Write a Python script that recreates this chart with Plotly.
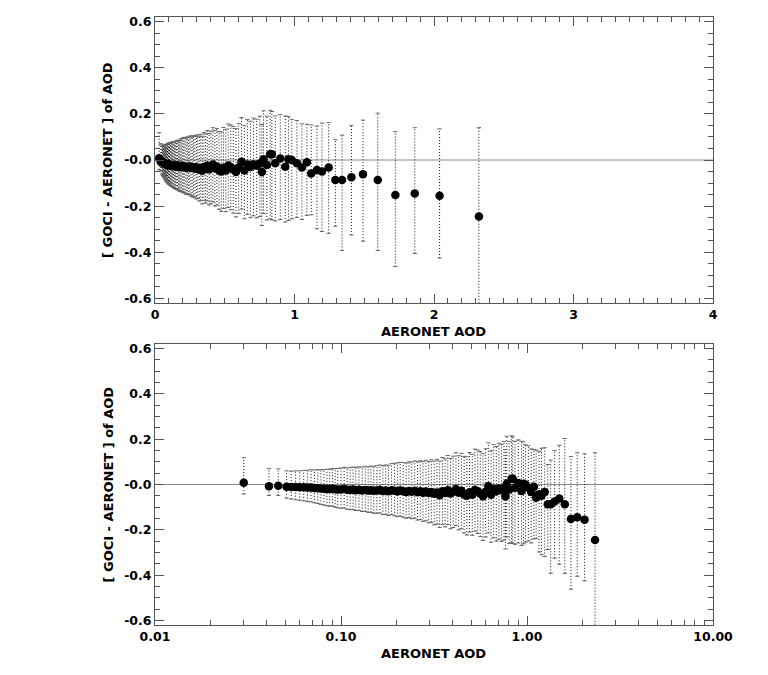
import plotly.graph_objects as go

# binned AERONET AOD (bin mean) vs GOCI - AERONET bias, with spread above / below the mean
aod = [0.030, 0.041, 0.046, 0.051, 0.054, 0.057, 0.060, 0.063, 0.066, 0.069,
       0.072, 0.075, 0.078, 0.081, 0.084, 0.087, 0.090, 0.093, 0.096, 0.100,
       0.104, 0.108, 0.112, 0.116, 0.120, 0.125, 0.130, 0.135, 0.140, 0.145,
       0.150, 0.156, 0.162, 0.168, 0.174, 0.180, 0.187, 0.194, 0.201, 0.208,
       0.216, 0.224, 0.232, 0.240, 0.249, 0.258, 0.267, 0.276, 0.286, 0.296,
       0.306, 0.317, 0.328, 0.339, 0.351, 0.363, 0.375, 0.388, 0.401, 0.415,
       0.429, 0.444, 0.459, 0.475, 0.491, 0.508, 0.525, 0.543, 0.561, 0.580,
       0.600, 0.620, 0.641, 0.662, 0.684, 0.706, 0.729, 0.752, 0.766, 0.778,
       0.802, 0.826, 0.838, 0.862, 0.898, 0.934, 0.957, 0.981, 1.017, 1.053,
       1.089, 1.120, 1.161, 1.197, 1.245, 1.293, 1.341, 1.408, 1.491, 1.597,
       1.723, 1.862, 2.040, 2.322]

bias = [0.008, -0.008, -0.006, -0.010, -0.011, -0.011, -0.012, -0.012, -0.013, -0.013,
        -0.015, -0.016, -0.018, -0.019, -0.020, -0.020, -0.019, -0.021, -0.022, -0.022,
        -0.020, -0.023, -0.024, -0.022, -0.025, -0.023, -0.026, -0.024, -0.027, -0.025,
        -0.028, -0.026, -0.024, -0.029, -0.027, -0.030, -0.025, -0.028, -0.031, -0.027,
        -0.030, -0.033, -0.029, -0.032, -0.028, -0.034, -0.030, -0.036, -0.031, -0.038,
        -0.033, -0.041, -0.035, -0.047, -0.030, -0.038, -0.025, -0.040, -0.032, -0.020,
        -0.036, -0.028, -0.044, -0.050, -0.034, -0.045, -0.024, -0.030, -0.040, -0.052,
        -0.032, -0.008, -0.045, -0.020, -0.030, -0.018, -0.025, -0.015, -0.052, 0.003,
        -0.022, 0.025, 0.025, -0.014, 0.007, -0.029, 0.003, 0.000, -0.014, -0.033,
        -0.010, -0.058, -0.043, -0.050, -0.033, -0.087, -0.087, -0.075, -0.062, -0.087,
        -0.152, -0.145, -0.155, -0.245]

err_up = [0.110, 0.078, 0.075, 0.070, 0.070, 0.071, 0.072, 0.074, 0.076, 0.078,
          0.079, 0.081, 0.083, 0.085, 0.087, 0.088, 0.090, 0.091, 0.093, 0.095,
          0.096, 0.097, 0.098, 0.099, 0.100, 0.101, 0.103, 0.104, 0.105, 0.106,
          0.108, 0.109, 0.110, 0.112, 0.113, 0.115, 0.117, 0.122, 0.126, 0.125,
          0.127, 0.128, 0.129, 0.131, 0.132, 0.134, 0.135, 0.137, 0.138, 0.140,
          0.142, 0.144, 0.146, 0.150, 0.149, 0.151, 0.153, 0.155, 0.157, 0.160,
          0.163, 0.165, 0.168, 0.172, 0.175, 0.178, 0.180, 0.182, 0.185, 0.188,
          0.190, 0.192, 0.194, 0.196, 0.198, 0.200, 0.202, 0.205, 0.206, 0.210,
          0.212, 0.190, 0.185, 0.205, 0.190, 0.220, 0.185, 0.175, 0.185, 0.190,
          0.165, 0.210, 0.190, 0.210, 0.195, 0.175, 0.195, 0.225, 0.235, 0.290,
          0.275, 0.285, 0.290, 0.385]

err_dn = [0.050, 0.040, 0.042, 0.050, 0.053, 0.056, 0.058, 0.060, 0.062, 0.064,
          0.066, 0.068, 0.070, 0.072, 0.074, 0.076, 0.077, 0.079, 0.081, 0.083,
          0.084, 0.086, 0.087, 0.089, 0.090, 0.092, 0.093, 0.095, 0.096, 0.098,
          0.099, 0.101, 0.102, 0.104, 0.105, 0.107, 0.108, 0.110, 0.111, 0.113,
          0.114, 0.116, 0.117, 0.119, 0.121, 0.123, 0.125, 0.127, 0.129, 0.131,
          0.134, 0.137, 0.140, 0.143, 0.146, 0.149, 0.152, 0.155, 0.158, 0.161,
          0.164, 0.167, 0.170, 0.173, 0.176, 0.179, 0.182, 0.186, 0.190, 0.195,
          0.200, 0.205, 0.210, 0.215, 0.220, 0.224, 0.226, 0.230, 0.232, 0.235,
          0.238, 0.280, 0.285, 0.250, 0.265, 0.240, 0.265, 0.255, 0.235, 0.225,
          0.230, 0.180, 0.255, 0.260, 0.285, 0.200, 0.305, 0.250, 0.290, 0.305,
          0.310, 0.260, 0.270, 0.400]

y_ticks = [-0.6, -0.4, -0.2, 0.0, 0.2, 0.4, 0.6]
y_labels = ["-0.6", "-0.4", "-0.2", "-0.0", "0.2", "0.4", "0.6"]
lin_ticks = [0, 1, 2, 3, 4]
lin_labels = ["0", "1", "2", "3", "4"]
log_ticks = [0.01, 0.1, 1, 10]
log_labels = ["0.01", "0.10", "1.00", "10.00"]
log_minor = [m * d for d in (0.01, 0.1, 1) for m in range(2, 10)]

x_title = "AERONET AOD"
y_title = "[ GOCI - AERONET ] of AOD"

# page body has an 8px margin, so the figure is 16px smaller and everything is shifted by 8
OFF = 8
W, H = 768 - 2 * OFF, 675 - 2 * OFF


def px_x(p):
    return (p - OFF) / W


def px_y(p):
    return 1 - (p - OFF) / H


X_DOM = [px_x(155), px_x(713)]
TOP_DOM = [px_y(303), px_y(17)]
BOT_DOM = [px_y(625), px_y(344)]

tick_font = dict(family="DejaVu Sans", size=12.5, color="black", weight="bold")
title_font = dict(family="DejaVu Sans", size=13, color="black", weight="bold")
AX_COLOR = "#555555"

# dotted whiskers + little caps, built from the arrays above
bar_x, bar_y, cap_x, cap_y = [], [], [], []
for x, y, up, dn in zip(aod, bias, err_up, err_dn):
    bar_x += [x, x, None]
    bar_y += [y - dn, y + up, None]
    cap_x += [x, x]
    cap_y += [y - dn, y + up]

fig = go.Figure()
for xa, ya in (("x", "y"), ("x2", "y2")):
    fig.add_trace(go.Scatter(x=bar_x, y=bar_y, mode="lines", xaxis=xa, yaxis=ya,
                             line=dict(color="#111111", width=1, dash="1px,2px"),
                             hoverinfo="skip", showlegend=False))
    fig.add_trace(go.Scatter(x=cap_x, y=cap_y, mode="markers", xaxis=xa, yaxis=ya,
                             marker=dict(symbol="line-ew", size=3,
                                         line=dict(color="#666666", width=1)),
                             hoverinfo="skip", showlegend=False))
    fig.add_trace(go.Scatter(x=aod, y=bias, mode="markers", xaxis=xa, yaxis=ya,
                             marker=dict(color="black", size=8.5, line=dict(width=0)),
                             showlegend=False))
    fig.add_shape(type="line", xref=f"{xa} domain", x0=0, x1=1, yref=ya, y0=0, y1=0,
                  line=dict(color="#8a8a8a", width=1), layer="below")

axis_common = dict(showline=True, linecolor=AX_COLOR, linewidth=1, mirror="ticks",
                   ticks="inside", ticklen=9, tickcolor=AX_COLOR, tickwidth=1,
                   showgrid=False, zeroline=False, tickfont=tick_font,
                   automargin=False, fixedrange=True)

fig.update_layout(
    width=W, height=H, autosize=False,
    margin=dict(l=0, r=0, t=0, b=0),
    paper_bgcolor="white", plot_bgcolor="white",
    xaxis=dict(axis_common, domain=X_DOM, anchor="y", range=[0, 4],
               tickmode="array", tickvals=lin_ticks, ticktext=lin_labels,
               minor=dict(ticks="inside", dtick=0.1, ticklen=5,
                          tickcolor=AX_COLOR, showgrid=False)),
    yaxis=dict(axis_common, domain=TOP_DOM, anchor="x", range=[-0.62, 0.62],
               tickmode="array", tickvals=y_ticks, ticktext=y_labels,
               minor=dict(ticks="inside", dtick=0.05, tick0=0, ticklen=5,
                          tickcolor=AX_COLOR, showgrid=False)),
    xaxis2=dict(axis_common, domain=X_DOM, anchor="y2", type="log", range=[-2, 1],
                tickmode="array", tickvals=log_ticks, ticktext=log_labels,
                minor=dict(ticks="inside", tickmode="array", tickvals=log_minor,
                           ticklen=5, tickcolor=AX_COLOR, showgrid=False)),
    yaxis2=dict(axis_common, domain=BOT_DOM, anchor="x2", range=[-0.62, 0.62],
                tickmode="array", tickvals=y_ticks, ticktext=y_labels,
                minor=dict(ticks="inside", dtick=0.05, tick0=0, ticklen=5,
                           tickcolor=AX_COLOR, showgrid=False)),
)

x_mid = (X_DOM[0] + X_DOM[1]) / 2
for ty in (331.5, 653):
    fig.add_annotation(text=x_title, xref="paper", yref="paper", x=x_mid, y=px_y(ty),
                       xanchor="center", yanchor="middle", showarrow=False,
                       font=title_font)
for ty in (160, 484.5):
    fig.add_annotation(text=y_title, xref="paper", yref="paper", x=px_x(108), y=px_y(ty),
                       xanchor="center", yanchor="middle", textangle=-90,
                       showarrow=False, font=title_font)

fig.write_html("out.html")
